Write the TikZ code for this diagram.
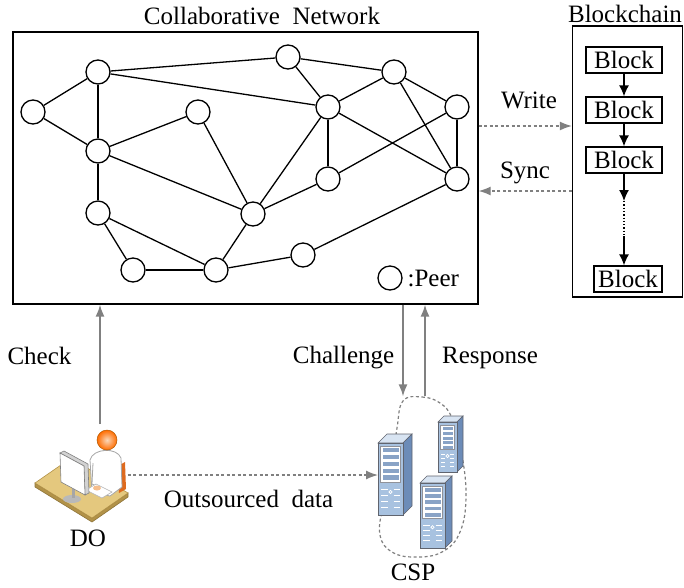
\documentclass[tikz,border=0pt]{standalone}
\usepackage{fontspec}
\usepackage{tikz}
\setmainfont{Liberation Serif}
\usetikzlibrary{arrows.meta,positioning}

\definecolor{linkgray}{RGB}{128,128,128}
\definecolor{desktan}{RGB}{228,200,126}
\definecolor{deskedge}{RGB}{178,146,72}
\definecolor{chairorange}{RGB}{222,106,30}
\definecolor{skin}{RGB}{246,190,140}
\definecolor{srvfront}{RGB}{168,194,224}
\definecolor{srvside}{RGB}{108,140,184}
\definecolor{srvtop}{RGB}{216,228,242}
\definecolor{srvline}{RGB}{96,100,110}

% tower server: name, centre, width, height, depth
\newcommand{\tower}[5]{%
	\node[minimum width=#3, minimum height=#4, inner sep=0pt, outer sep=0pt] (#1) at #2 {};
	\begin{scope}[shift={(#1.north west)}, line width=0.6pt]
		\filldraw[fill=srvtop, draw=srvline] (0,0) -- (#5,-#5) -- (#3+#5,-#5) -- (#3,0) -- cycle;
		\filldraw[fill=srvside, draw=srvline] (#3,0) -- (#3+#5,-#5) -- (#3+#5,#4-#5) -- (#3,#4) -- cycle;
		\filldraw[fill=srvfront, draw=srvline] (0,0) rectangle (#3,#4);
		\filldraw[fill=white, draw=srvline!70] (2.5,3) rectangle (#3-2.5,0.55*#4);
		\foreach \k in {0,...,4}
			\fill[srvside!80] (4.5,{5+\k*0.095*#4}) rectangle (#3-4.5,{5+\k*0.095*#4+0.06*#4});
		\foreach \k in {0,1,2,3} {
			\draw[white, line width=1pt] (3,{0.65*#4+\k*0.08*#4}) -- (0.38*#3,{0.65*#4+\k*0.08*#4});
			\draw[white, line width=1pt] (0.62*#3,{0.65*#4+\k*0.08*#4}) -- (#3-3,{0.65*#4+\k*0.08*#4});
		}
		\draw[white, line width=0.8pt] (0.5*#3,0.68*#4) circle (1.6pt);
	\end{scope}
}

\begin{document}
\begin{tikzpicture}[x=1pt,y=-1pt,line width=1.3pt,
	font=\fontsize{25}{30}\selectfont]
	
	\tikzstyle{peer}=[circle,draw,minimum size=24pt,inner sep=0pt]
	\tikzstyle{block}=[draw,minimum width=76pt,minimum height=26pt,inner sep=0pt]
	\tikzstyle{chainlink}=[-{Latex[length=11pt,width=10pt]}]
	\tikzstyle{flow}=[draw=linkgray,line width=1.6pt,-{Latex[length=12pt,width=9pt]},color=linkgray]
	\tikzstyle{dotflow}=[flow,line width=1.3pt,dash pattern=on 3pt off 2.5pt]
	
	\useasboundingbox (0,0) rectangle (684,587);
	
	% collaborative network
	\node[draw,minimum width=465pt,minimum height=272pt,inner sep=0pt] (net) at (245.5,168) {};
	\node[anchor=base] at (262,24) {Collaborative~~Network};
	
	\node[peer] (p1)  at (33,112)  {};
	\node[peer] (p2)  at (98,72)   {};
	\node[peer] (p3)  at (98,151)  {};
	\node[peer] (p4)  at (98,213)  {};
	\node[peer] (p5)  at (133,270) {};
	\node[peer] (p6)  at (216,270) {};
	\node[peer] (p7)  at (198,112) {};
	\node[peer] (p8)  at (253,214) {};
	\node[peer] (p9)  at (303,255) {};
	\node[peer] (p10) at (288,57)  {};
	\node[peer] (p11) at (328,107) {};
	\node[peer] (p12) at (394,72)  {};
	\node[peer] (p13) at (328,179) {};
	\node[peer] (p14) at (457,107) {};
	\node[peer] (p15) at (457,179) {};
	
	\path (p1) edge (p2) edge (p3)
	(p2) edge (p3) edge (p10) edge (p11)
	(p3) edge (p4) edge (p7) edge (p8)
	(p4) edge (p5) edge (p6)
	(p5) edge (p6)
	(p6) edge (p8) edge (p9)
	(p7) edge (p8)
	(p8) edge (p11) edge (p13)
	(p9) edge (p15)
	(p10) edge (p11) edge (p12)
	(p11) edge (p12) edge (p13) edge (p15)
	(p12) edge (p14) edge (p15)
	(p13) edge (p14)
	(p14) edge (p15);
	
	\node[peer] (key) at (390,278) {};
	\node[right=1pt of key] {:Peer};
	
	% blockchain
	\node[draw,minimum width=110pt,minimum height=271pt,inner sep=0pt] (chain) at (627.5,161.5) {};
	\node[anchor=base] at (625,22) {Blockchain};
	\node[block] (b1) at (624,60)  {Block};
	\node[block] (b2) at (624,110) {Block};
	\node[block] (b3) at (624,160) {Block};
	\node[block,minimum width=68pt] (b4) at (628,279) {Block};
	\coordinate (gap1) at (624,201);
	\coordinate (gap2) at (624,236);
	\draw[chainlink] (b1) -- (b2);
	\draw[chainlink] (b2) -- (b3);
	\draw[chainlink] (b3) -- (gap1);
	\draw[dotted] (gap1) -- (gap2);
	\draw[chainlink] (gap2) -- (gap2 |- b4.north);
	
	\coordinate (wr) at (0,126);
	\coordinate (sy) at (0,191);
	\draw[dotflow] (net.east |- wr) -- (chain.west |- wr);
	\draw[dotflow] (chain.west |- sy) -- (net.east |- sy);
	\node[anchor=base] at (529,108) {Write};
	\node[anchor=base] at (525,178) {Sync};
	
	% data owner at the desk
	\node[minimum width=94pt,minimum height=94pt,inner sep=0pt] (do) at (80,475) {};
	\begin{scope}[line width=0.6pt]
		\filldraw[fill=deskedge,draw=deskedge!80!black] (35,483) -- (92,518) -- (128,493) -- (128,497) -- (92,522) -- (35,487) -- cycle;
		\filldraw[fill=desktan,draw=deskedge] (35,483) -- (71,458) -- (128,493) -- (92,518) -- cycle;
		\fill[chairorange] (118,466) -- (125,462) -- (126,489) -- (119,493) -- cycle;
		\filldraw[fill=white,draw=gray!70,line width=0.8pt] (90,460) .. controls (93,448) and (117,447) .. (121,458) -- (122,487) -- (110,496) -- (92,492) -- cycle;
		\draw[gray!70,line width=0.8pt] (93,463) -- (92,484) -- (99,487);
		\filldraw[fill=white,draw=gray!60] (86,490) -- (96,484) -- (112,492) -- (102,498) -- cycle;
		\fill[skin] (97,488) ellipse (4pt and 2.5pt);
		\shade[inner color=skin!60!white,outer color=orange!85!red] (107,440) circle (10pt);
		\draw[orange!70!black,line width=0.5pt] (107,440) circle (10pt);
		\fill[gray!55] (72,499) ellipse (9pt and 4pt);
		\draw[gray!70,line width=3pt] (73,486) -- (73,498);
		\filldraw[fill=gray!35,draw=gray] (60,453) -- (64,451) -- (88,464) -- (89,493) -- (85,495) -- (84,466) -- cycle;
		\filldraw[fill=white,draw=gray] (60,453) -- (84,466) -- (85,495) -- (61,482) -- cycle;
	\end{scope}
	\node[anchor=base] at (88,546) {DO};
	
	% cloud service provider
	\node[minimum width=96pt,minimum height=160pt,inner sep=0pt] (csp) at (420,477) {};
	\draw[linkgray,line width=1.2pt,dash pattern=on 3pt off 2.5pt]
		plot[smooth cycle,tension=0.7] coordinates {(403,401) (422,397) (440,403) (452,418) (461,450) (466,495) (460,532) (442,552) (415,557) (392,552) (380,535) (383,505) (392,465) (397,428)};
	\tower{srvB}{(447.5,447)}{19}{50}{6}
	\tower{srvA}{(390.5,479)}{25}{72}{9}
	\tower{srvC}{(432.5,515.5)}{25}{65}{7}
	\node[anchor=base] at (413,580) {CSP};
	
	% links between the parties
	\coordinate (chk) at (100,424);
	\coordinate (ch) at (403,0);
	\coordinate (rs) at (425,0);
	\draw[flow] (chk) -- (chk |- net.south);
	\draw[flow] (ch |- net.south) -- (ch |- csp.north);
	\draw[flow] (rs |- csp.north) -- (rs |- net.south);
	\draw[dotflow] (do.east) -- (do.east -| srvA.west);
	\node[anchor=base] at (39.5,364) {Check};
	\node[anchor=base] at (343.5,363) {Challenge};
	\node[anchor=base] at (490,363) {Response};
	\node[anchor=base] at (248.5,507) {Outsourced~~data};
	
\end{tikzpicture}
\end{document}
